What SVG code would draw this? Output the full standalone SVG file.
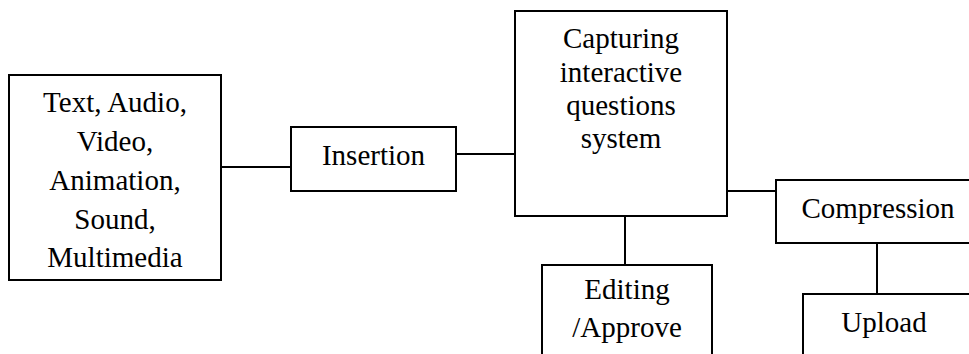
<svg xmlns="http://www.w3.org/2000/svg" width="969" height="354" viewBox="0 0 969 354">
<style>
.box{fill:#fff;stroke:#000;stroke-width:2}
.ln{stroke:#000;stroke-width:2;fill:none}
</style>
<rect width="969" height="354" fill="#fff"/>
<g id="connectors">
<line class="ln" x1="221" y1="167" x2="291" y2="167"/>
<line class="ln" x1="456" y1="154" x2="515" y2="154"/>
<line class="ln" x1="727" y1="191" x2="776" y2="191"/>
<line class="ln" x1="625" y1="216" x2="625" y2="265"/>
<line class="ln" x1="877" y1="243" x2="877" y2="294"/>
</g>
<g id="media">
<rect class="box" x="9" y="75" width="212" height="205"/>
<text x="115" y="112" font-size="29" font-family="Liberation Serif" text-anchor="middle">Text, Audio,</text>
<text x="115" y="151" font-size="29" font-family="Liberation Serif" text-anchor="middle">Video,</text>
<text x="115" y="190" font-size="29" font-family="Liberation Serif" text-anchor="middle">Animation,</text>
<text x="115" y="229" font-size="29" font-family="Liberation Serif" text-anchor="middle">Sound,</text>
<text x="115" y="267" font-size="29" font-family="Liberation Serif" text-anchor="middle">Multimedia</text>
</g>
<g id="insertion">
<rect class="box" x="291" y="127" width="165" height="64"/>
<text x="373.5" y="165" font-size="29" font-family="Liberation Serif" text-anchor="middle">Insertion</text>
</g>
<g id="capturing">
<rect class="box" x="515" y="11" width="212" height="205"/>
<text x="621" y="48" font-size="29" font-family="Liberation Serif" text-anchor="middle">Capturing</text>
<text x="621" y="82" font-size="29" font-family="Liberation Serif" text-anchor="middle">interactive</text>
<text x="621" y="115" font-size="29" font-family="Liberation Serif" text-anchor="middle">questions</text>
<text x="621" y="148" font-size="29" font-family="Liberation Serif" text-anchor="middle">system</text>
</g>
<g id="compression">
<rect class="box" x="776" y="180" width="210" height="63"/>
<text x="878" y="218" font-size="29" font-family="Liberation Serif" text-anchor="middle">Compression</text>
</g>
<g id="editing">
<rect class="box" x="542" y="265" width="170" height="100"/>
<text x="627" y="299" font-size="29" font-family="Liberation Serif" text-anchor="middle">Editing</text>
<text x="627" y="337" font-size="29" font-family="Liberation Serif" text-anchor="middle">/Approve</text>
</g>
<g id="upload">
<rect class="box" x="803" y="294" width="180" height="80"/>
<text x="884" y="332" font-size="29" font-family="Liberation Serif" text-anchor="middle">Upload</text>
</g>
</svg>
